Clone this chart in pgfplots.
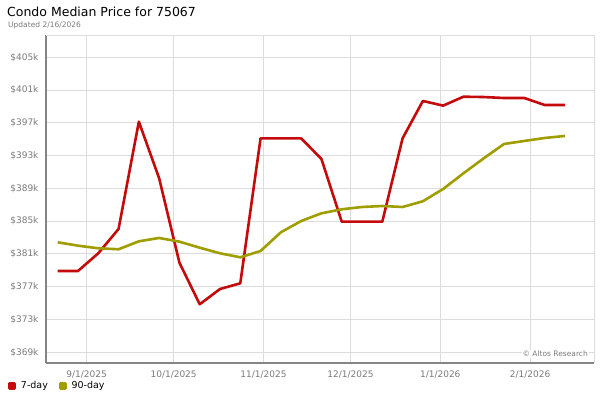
\documentclass[border=0pt]{standalone}
\usepackage{pgfplots}
\pgfplotsset{compat=1.18}
\usepackage{fontspec}
\setmainfont{DejaVu Sans}
\definecolor{redline}{HTML}{C40A0A}
\definecolor{oliveline}{HTML}{A09D00}
\definecolor{gridc}{HTML}{DCDCDC}
\definecolor{axc}{HTML}{858585}
\definecolor{tickc}{HTML}{7A7A7A}
\begin{document}
\begin{tikzpicture}
\path[use as bounding box] (0pt,0pt) rectangle (600pt,400pt);
\node[anchor=west, inner sep=0pt, font=\fontsize{12.5}{14}\selectfont] at (7pt,388pt) {Condo Median Price for 75067};
\node[anchor=west, inner sep=0pt, text=tickc, font=\fontsize{7.5}{9}\selectfont] at (8pt,375pt) {Updated 2/16/2026};
\begin{axis}[
  at={(46pt,37pt)}, anchor=south west,
  scale only axis, width=548pt, height=328pt,
  xmin=-14.04, xmax=175.05, ymin=367.69, ymax=407.72,
  axis x line=bottom, axis y line=left,
  axis line style={draw=axc, line width=2.8pt, -},
  xtick={0,30,61,91,122,153},
  xticklabels={9/1/2025,10/1/2025,11/1/2025,12/1/2025,1/1/2026,2/1/2026},
  ytick={369,373,377,381,385,389,393,397,401,405},
  yticklabels={\$369k,\$373k,\$377k,\$381k,\$385k,\$389k,\$393k,\$397k,\$401k,\$405k},
  major tick length=0pt,
  tick label style={text=tickc, font=\fontsize{9}{10}\selectfont},
  xticklabel style={yshift=-4pt},
  yticklabel style={xshift=-4pt},
  /pgf/number format/assume math mode=true,
  grid=major,
  major grid style={draw=gridc, line width=1pt},
  legend columns=2,
  legend style={at={(-0.069,-0.07)}, anchor=west, draw=none, fill=none,
    font=\fontsize{9.5}{11}\selectfont, inner sep=0pt,
    /tikz/every odd column/.append style={column sep=3pt},
    /tikz/every even column/.append style={column sep=9pt}},
  legend image code/.code={\fill[#1] (0pt,-2.5pt) rectangle (5pt,2.5pt);},
  clip=false,
]
\draw[gridc, line width=1pt] (rel axis cs:0,1) -- (rel axis cs:1,1) -- (rel axis cs:1,0);
\addplot[redline, line width=2.6pt, line join=round] coordinates {
(-10,378.92) (-3,378.92) (4,381.08) (11,384.05) (18,397.14) (25,390.23)
(32,379.93) (39,374.86) (46,376.72) (53,377.42) (60,395.11) (67,395.11)
(74,395.11) (81,392.59) (88,384.94) (95,384.94) (102,384.94) (109,395.11)
(116,399.67) (123,399.10) (130,400.19) (137,400.15) (144,400.03) (151,400.03)
(158,399.18) (165,399.18)
};
\addlegendentry{7-day}
\addplot[oliveline, line width=2.6pt, line join=round] coordinates {
(-10,382.42) (-3,382.01) (4,381.69) (11,381.57) (18,382.54) (25,382.95)
(32,382.50) (39,381.76) (46,381.08) (53,380.59) (60,381.36) (67,383.64)
(74,385.02) (81,385.96) (88,386.45) (95,386.73) (102,386.85) (109,386.73)
(116,387.43) (123,388.93) (130,390.84) (137,392.67) (144,394.42) (151,394.79)
(158,395.15) (165,395.40)
};
\addlegendentry{90-day}
\node[anchor=east, fill=white, inner sep=1pt, text=tickc, font=\fontsize{7.5}{9}\selectfont] at (rel axis cs:0.991,0.0274) {© Altos Research};
\end{axis}
\end{tikzpicture}
\end{document}
